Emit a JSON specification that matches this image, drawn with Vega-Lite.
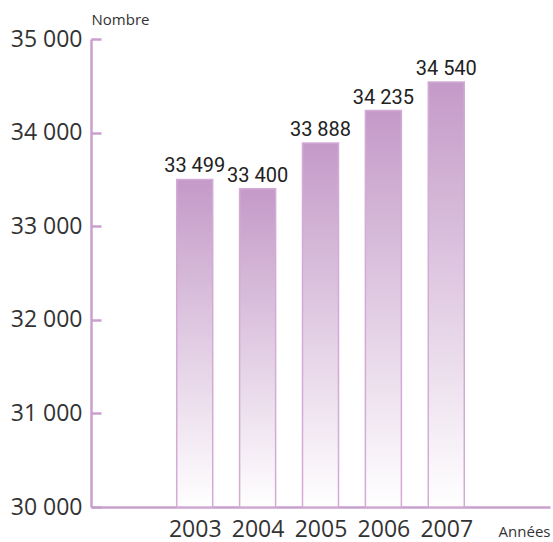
{
  "$schema": "https://vega.github.io/schema/vega-lite/v6.json",
  "width": 459,
  "height": 468,
  "autosize": "none",
  "padding": {"left": 91, "top": 39, "right": 3, "bottom": 35},
  "background": "white",
  "config": {
    "view": {"stroke": null},
    "locale": {"number": {"decimal": ",", "thousands": " ", "grouping": [3], "currency": ["", " €"]}},
    "axis": {"domainColor": "#c9a0cd", "domainWidth": 2.5, "tickColor": "#c9a0cd", "grid": false}
  },
  "data": {
    "values": [
      {"annee": 2003, "nombre": 33499},
      {"annee": 2004, "nombre": 33400},
      {"annee": 2005, "nombre": 33888},
      {"annee": 2006, "nombre": 34235},
      {"annee": 2007, "nombre": 34540}
    ]
  },
  "encoding": {
    "x": {
      "field": "annee", "type": "quantitative",
      "scale": {"domain": [2001.43, 2008.57], "nice": false, "zero": false},
      "axis": {
        "values": [2003, 2004, 2005, 2006, 2007], "format": "d", "ticks": false,
        "labelFont": "Open Sans", "labelFontSize": 23, "labelColor": "#333333", "labelPadding": 11,
        "title": "Années", "titleFont": "Open Sans", "titleFontSize": 15, "titleFontWeight": "normal",
        "titleColor": "#333333", "titleAnchor": "end", "titleAlign": "right", "titleX": 459, "titleY": 29, "titleBaseline": "alphabetic"
      }
    }
  },
  "layer": [
    {
      "mark": {
        "type": "bar", "size": 36, "stroke": "#d3acd6", "strokeWidth": 1.5,
        "color": {"gradient": "linear", "x1": 0, "y1": 0, "x2": 0, "y2": 1,
          "stops": [{"offset": 0, "color": "#c49ac8"}, {"offset": 1, "color": "#ffffff"}]}
      },
      "encoding": {
        "y": {
          "field": "nombre", "type": "quantitative",
          "scale": {"domain": [30000, 35000], "nice": false, "zero": false},
          "axis": {
            "orient": "left",
            "values": [30000, 31000, 32000, 33000, 34000, 35000], "format": ",d",
            "ticks": false, "labelPadding": 9,
            "labelFont": "Open Sans", "labelFontSize": 23, "labelColor": "#333333",
            "title": "Nombre", "titleAngle": 0, "titleFont": "Open Sans", "titleFontSize": 15, "titleFontWeight": "normal",
            "titleColor": "#333333", "titleAlign": "left", "titleX": 0, "titleY": -15, "titleBaseline": "alphabetic"
          }
        },
        "y2": {"datum": 30000}
      }
    },
    {
      "mark": {"type": "text", "baseline": "alphabetic", "dy": -7, "font": "Roboto", "fontSize": 20, "color": "#222222"},
      "encoding": {
        "y": {
          "field": "nombre", "type": "quantitative",
          "scale": {"domain": [30000, 35000], "nice": false, "zero": false},
          "axis": {
            "orient": "left", "offset": -10,
            "values": [30000, 31000, 32000, 33000, 34000, 35000],
            "domain": false, "labels": false, "title": null,
            "ticks": true, "tickSize": 10, "tickWidth": 2.5
          }
        },
        "text": {"field": "nombre", "type": "quantitative", "format": ",d"}
      }
    }
  ],
  "resolve": {"axis": {"y": "independent"}}
}
